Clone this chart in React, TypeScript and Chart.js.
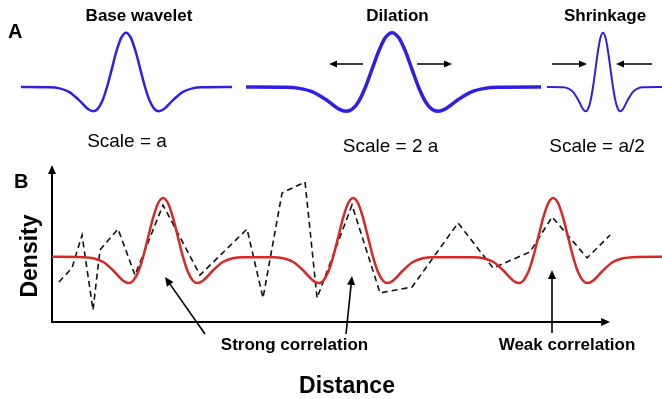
import React, { useEffect, useRef } from "react";
import { Chart, registerables } from "chart.js";
Chart.register(...registerables);

// ---------- Panel A: wavelets (position units, relative amplitude) ----------
const baseX = [21, 50, 59.5, 69, 78.5, 88, 93, 97.5, 102.3, 107, 111.8, 116.5, 121.3, 126, 130.8, 135.5, 140.3, 145, 149.8, 154.5, 158.9, 164, 173.5, 183, 192.5, 202, 232];
const dilationX = [246, 286, 299.3, 312.5, 325.8, 339, 346.1, 352.3, 358.9, 365.5, 372.1, 378.8, 385.4, 392, 398.6, 405.3, 411.9, 418.5, 425.1, 431.8, 437.9, 445, 458.3, 471.5, 484.8, 498, 541];
const shrinkX = [547, 563, 568, 573, 578, 583, 585.7, 588, 590.5, 593, 595.5, 598, 600.5, 603, 605.5, 608, 610.5, 613, 615.5, 618, 620.3, 623, 628, 633, 638, 643, 662];
const waveletAmp = [0, -0.005, -0.025, -0.089, -0.231, -0.406, -0.446, -0.406, -0.258, 0, 0.33, 0.662, 0.909, 1, 0.909, 0.662, 0.33, 0, -0.258, -0.406, -0.446, -0.406, -0.231, -0.089, -0.025, -0.005, 0];

// ---------- Panel B: density vs distance ----------
const waveletDistance = [
  0,
  5.62, 7.4, 9.19, 10.97, 12.76, 13.72, 14.54, 15.44, 16.33, 17.22, 18.11, 19.01, 19.9, 20.79, 21.69, 22.58, 23.47, 24.36, 25.26, 26.08, 27.04, 28.83, 30.61, 32.4, 34.18,
  39.67, 41.45, 43.24, 45.02, 46.81, 47.77, 48.59, 49.49, 50.38, 51.27, 52.16, 53.06, 53.95, 54.84, 55.74, 56.63, 57.52, 58.41, 59.31, 60.13, 61.09, 62.88, 64.66, 66.45, 68.23,
  75.52, 77.3, 79.09, 80.87, 82.66, 83.62, 84.44, 85.34, 86.23, 87.12, 88.01, 88.91, 89.8, 90.69, 91.59, 92.48, 93.37, 94.26, 95.16, 95.98, 96.94, 98.73, 100.51, 102.3, 104.08,
  109.3,
];
const waveletDensity = [
  4.15,
  4.13, 4.06, 3.82, 3.28, 2.63, 2.48, 2.63, 3.18, 4.15, 5.39, 6.63, 7.56, 7.9, 7.56, 6.63, 5.39, 4.15, 3.18, 2.63, 2.48, 2.63, 3.28, 3.82, 4.06, 4.13,
  4.13, 4.06, 3.82, 3.28, 2.63, 2.48, 2.63, 3.18, 4.15, 5.39, 6.63, 7.56, 7.9, 7.56, 6.63, 5.39, 4.15, 3.18, 2.63, 2.48, 2.63, 3.28, 3.82, 4.06, 4.13,
  4.13, 4.06, 3.82, 3.28, 2.63, 2.48, 2.63, 3.18, 4.15, 5.39, 6.63, 7.56, 7.9, 7.56, 6.63, 5.39, 4.15, 3.18, 2.63, 2.48, 2.63, 3.28, 3.82, 4.06, 4.13,
  4.15,
];
const observedDistance = [1.25, 3.58, 5.38, 7.35, 8.6, 11.83, 14.87, 19.89, 26.52, 34.95, 37.81, 41.22, 45.34, 47.49, 53.76, 58.78, 64.52, 72.76, 79.03, 85.66, 89.61, 95.88, 100];
const observedDensity = [2.55, 3.44, 5.54, 0.76, 4.59, 5.92, 2.99, 7.45, 2.99, 5.92, 1.53, 8.22, 8.92, 1.53, 7.45, 1.85, 2.23, 6.31, 3.44, 4.46, 6.69, 4.08, 5.54];
const axisEndDistance = 100;
const axisEndDensity = 10;

const FONT = '"Liberation Sans", Arial, Helvetica, sans-serif';
const BLUE = "#2f1fe6";
const RED = "#d62828";

const pts = (xs: number[], ys: number[]) => xs.map((x, i) => ({ x, y: ys[i] }));

function arrow(ctx: CanvasRenderingContext2D, x1: number, y1: number, x2: number, y2: number, head = 8, half = 3.5, width = 1.6) {
  ctx.save();
  ctx.strokeStyle = "#000";
  ctx.fillStyle = "#000";
  ctx.lineWidth = width;
  const ang = Math.atan2(y2 - y1, x2 - x1);
  const bx = x2 - head * Math.cos(ang);
  const by = y2 - head * Math.sin(ang);
  ctx.beginPath();
  ctx.moveTo(x1, y1);
  ctx.lineTo(bx, by);
  ctx.stroke();
  ctx.beginPath();
  ctx.moveTo(x2, y2);
  ctx.lineTo(bx + half * Math.sin(ang), by - half * Math.cos(ang));
  ctx.lineTo(bx - half * Math.sin(ang), by + half * Math.cos(ang));
  ctx.closePath();
  ctx.fill();
  ctx.restore();
}

function text(ctx: CanvasRenderingContext2D, s: string, x: number, y: number, size: number, bold: boolean, align: CanvasTextAlign = "center") {
  ctx.save();
  ctx.fillStyle = "#000";
  ctx.font = `${bold ? "bold " : ""}${size}px ${FONT}`;
  ctx.textAlign = align;
  ctx.textBaseline = "alphabetic";
  ctx.fillText(s, x, y);
  ctx.restore();
}

const panelAPlugin = {
  id: "panelA",
  afterDraw(chart: any) {
    const ctx = chart.ctx as CanvasRenderingContext2D;
    text(ctx, "A", 8, 38, 20, true, "left");
    text(ctx, "Base wavelet", 139, 20.5, 17, true);
    text(ctx, "Dilation", 397.5, 20.5, 17, true);
    text(ctx, "Shrinkage", 605, 20.5, 17, true);
    text(ctx, "Scale = a", 127, 147, 19, false);
    text(ctx, "Scale = 2 a", 390.5, 152, 19, false);
    text(ctx, "Scale = a/2", 597, 152, 19, false);
    arrow(ctx, 363, 64, 329, 64, 8, 3.5, 1.5);
    arrow(ctx, 417, 64, 452, 64, 8, 3.5, 1.5);
    arrow(ctx, 552, 64, 587, 64, 8, 3.5, 1.5);
    arrow(ctx, 652, 64, 616, 64, 8, 3.5, 1.5);
  },
};

const panelBPlugin = {
  id: "panelB",
  beforeDatasetsDraw(chart: any) {
    const ctx = chart.ctx as CanvasRenderingContext2D;
    const xs = chart.scales.x;
    const ys = chart.scales.y;
    const x0 = xs.getPixelForValue(0);
    const y0 = ys.getPixelForValue(0);
    arrow(ctx, x0, y0 + 1, x0, ys.getPixelForValue(axisEndDensity), 9, 4, 2);
    arrow(ctx, x0 - 1, y0, xs.getPixelForValue(axisEndDistance), y0, 9, 4, 2);
  },
  afterDraw(chart: any) {
    const ctx = chart.ctx as CanvasRenderingContext2D;
    text(ctx, "B", 14, 38, 20, true, "left");
    ctx.save();
    ctx.translate(37, 106);
    ctx.rotate(-Math.PI / 2);
    text(ctx, "Density", 0, 0, 23, true);
    ctx.restore();
    text(ctx, "Distance", 347, 243, 23, true);
    text(ctx, "Strong correlation", 294.5, 200, 17, true);
    text(ctx, "Weak correlation", 567, 200, 17, true);
    arrow(ctx, 205, 184, 165, 127, 9, 4, 1.6);
    arrow(ctx, 346, 184, 352, 126, 9, 4, 1.6);
    arrow(ctx, 552, 183, 552, 120, 9, 4, 1.6);
  },
};

export default function App() {
  const refA = useRef<HTMLCanvasElement>(null);
  const refB = useRef<HTMLCanvasElement>(null);

  useEffect(() => {
    const lineDs = (data: any, color: string, width: number) => ({
      data,
      borderColor: color,
      borderWidth: width,
      pointRadius: 0,
      fill: false,
      cubicInterpolationMode: "monotone" as const,
      clip: false as any,
    });

    const chartA = new Chart(refA.current!, {
      type: "line",
      data: {
        datasets: [
          lineDs(pts(baseX, waveletAmp), BLUE, 2.5),
          lineDs(pts(dilationX, waveletAmp), BLUE, 3.5),
          lineDs(pts(shrinkX, waveletAmp), BLUE, 2),
        ],
      },
      options: {
        animation: false,
        responsive: false,
        devicePixelRatio: 1,
        events: [],
        layout: { padding: 0 },
        plugins: { legend: { display: false }, tooltip: { enabled: false } },
        scales: {
          x: { type: "linear", display: false, min: 0, max: 662 },
          y: { type: "linear", display: false, min: -1.6, max: 1.6 },
        },
      },
      plugins: [panelAPlugin],
    });

    const chartB = new Chart(refB.current!, {
      type: "line",
      data: {
        datasets: [
          lineDs(pts(waveletDistance, waveletDensity), RED, 2.5),
          {
            data: pts(observedDistance, observedDensity),
            borderColor: "#111",
            borderWidth: 1.6,
            borderDash: [6, 4],
            pointRadius: 0,
            fill: false,
            tension: 0,
            clip: false as any,
          },
        ],
      },
      options: {
        animation: false,
        responsive: false,
        devicePixelRatio: 1,
        events: [],
        layout: { padding: { left: 52, right: 0, top: 15, bottom: 77 } },
        plugins: { legend: { display: false }, tooltip: { enabled: false } },
        scales: {
          x: { type: "linear", display: false, min: 0, max: 109.3 },
          y: { type: "linear", display: false, min: 0, max: 10 },
        },
      },
      plugins: [panelBPlugin],
    });

    return () => {
      chartA.destroy();
      chartB.destroy();
    };
  }, []);

  return (
    <div style={{ position: "absolute", left: 0, top: 0, width: 662, height: 399, background: "#fff", overflow: "hidden" }}>
      <canvas ref={refA} width={662} height={174} style={{ position: "absolute", left: 0, top: 0, width: 662, height: 174 }} />
      <canvas ref={refB} width={662} height={249} style={{ position: "absolute", left: 0, top: 150, width: 662, height: 249 }} />
    </div>
  );
}
